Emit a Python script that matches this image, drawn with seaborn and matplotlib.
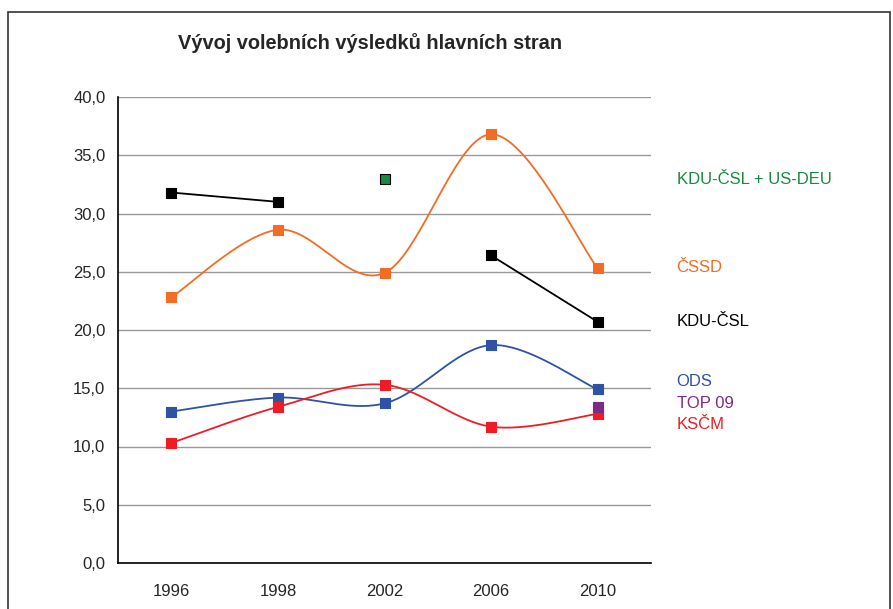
import numpy as np
import pandas as pd
import seaborn as sns
import matplotlib
matplotlib.use("Agg")
import matplotlib.pyplot as plt
from matplotlib.patches import Rectangle

# data
years = ["1996", "1998", "2002", "2006", "2010"]
cssd = [22.8, 28.6, 24.9, 36.8, 25.3]
ods = [13.0, 14.2, 13.7, 18.7, 14.9]
kscm = [10.3, 13.4, 15.3, 11.7, 12.8]
kdu = [31.8, 31.0, np.nan, 26.4, 20.7]
kdu_us = [np.nan, np.nan, 33.0, np.nan, np.nan]
top09 = [np.nan, np.nan, np.nan, np.nan, 13.4]

series = ["ČSSD", "ODS", "KSČM", "KDU-ČSL", "KDU-ČSL + US-DEU", "TOP 09"]
values = [cssd, ods, kscm, kdu, kdu_us, top09]
colors = ["#F26D23", "#2F52A4", "#EE1D25", "#000000", "#178A3F", "#7D2A85"]
edges = ["#F26D23", "#2F52A4", "#EE1D25", "#000000", "#000000", "#7D2A85"]

# label positions on the right (data y)
label_y = {"KDU-ČSL + US-DEU": 32.9, "ČSSD": 25.4, "KDU-ČSL": 20.7,
           "ODS": 15.6, "TOP 09": 13.7, "KSČM": 11.9}

df = pd.DataFrame({"year": years * len(series),
                   "strana": np.repeat(series, len(years)),
                   "hodnota": np.concatenate(values)})
df["pos"] = df.groupby("strana").cumcount()


def smooth(x, y, n=40):
    # Excel-like smoothed line (Catmull-Rom bezier)
    x = np.asarray(x, float)
    y = np.asarray(y, float)
    px, py = [], []
    for i in range(len(x) - 1):
        x0, y0 = (x[i - 1], y[i - 1]) if i > 0 else (x[i], y[i])
        x3, y3 = (x[i + 2], y[i + 2]) if i + 2 < len(x) else (x[i + 1], y[i + 1])
        x1, y1, x2, y2 = x[i], y[i], x[i + 1], y[i + 1]
        c1 = (x1 + (x2 - x0) / 6, y1 + (y2 - y0) / 6)
        c2 = (x2 - (x3 - x1) / 6, y2 - (y3 - y1) / 6)
        t = np.linspace(0, 1, n)
        bx = (1 - t) ** 3 * x1 + 3 * (1 - t) ** 2 * t * c1[0] + 3 * (1 - t) * t ** 2 * c2[0] + t ** 3 * x2
        by = (1 - t) ** 3 * y1 + 3 * (1 - t) ** 2 * t * c1[1] + 3 * (1 - t) * t ** 2 * c2[1] + t ** 3 * y2
        px.extend(bx)
        py.extend(by)
    return np.array(px), np.array(py)


sns.set_theme(style="white")
plt.rcParams["font.family"] = ["Liberation Sans", "DejaVu Sans"]

fig = plt.figure(figsize=(8.93, 6.09), dpi=100)
ax = fig.add_axes([118 / 893, 1 - 563 / 609, 533 / 893, 466 / 609])

for name, col in zip(series, colors):
    sub = df[df.strana == name]
    ok = sub.hodnota.notna().values
    # split into continuous runs
    runs, cur = [], []
    for p, v, k in zip(sub.pos, sub.hodnota, ok):
        if k:
            cur.append((p, v))
        elif cur:
            runs.append(cur)
            cur = []
    if cur:
        runs.append(cur)
    for r in runs:
        if len(r) < 2:
            continue
        xs, ys = zip(*r)
        sx, sy = smooth(xs, ys)
        ax.plot(sx, sy, color=col, lw=1.3, zorder=3)

for name, col, ec in zip(series, colors, edges):
    sub = df[(df.strana == name) & df.hodnota.notna()]
    sns.scatterplot(data=sub, x="pos", y="hodnota", marker="s", s=55,
                    color=col, edgecolor=ec, linewidth=0.8, ax=ax, zorder=4, legend=False)

for name, col in zip(series, colors):
    ax.text(4.74, label_y[name], name, color=col, fontsize=12, va="center",
            ha="left", clip_on=False)

ax.set_xlim(-0.5, 4.5)
ax.set_ylim(0, 40)
ax.set_yticks(np.arange(0, 41, 5))
ax.set_yticklabels([f"{v:.1f}".replace(".", ",") for v in np.arange(0, 41, 5)])
ax.set_xticks(range(len(years)))
ax.set_xticklabels(years)
ax.set_xticks(np.arange(-0.5, 4.6, 1), minor=True)
ax.tick_params(axis="x", which="major", length=0, pad=15, labelsize=12)
ax.tick_params(axis="x", which="minor", length=5, width=0.8, color="#888888", direction="out")
ax.tick_params(axis="y", length=5, width=0.8, color="#888888", direction="out", pad=4, labelsize=12)
ax.grid(axis="y", color="#999999", lw=1)
ax.set_axisbelow(True)
ax.set_xlabel("")
ax.set_ylabel("")
for s in ["top", "right"]:
    ax.spines[s].set_visible(False)
for s in ["left", "bottom"]:
    ax.spines[s].set_color("black")
    ax.spines[s].set_linewidth(1.2)

fig.text(370 / 893, 1 - 43 / 609, "Vývoj volebních výsledků hlavních stran",
         ha="center", va="center", fontsize=14.4, fontweight="bold")

fig.patches.append(Rectangle((8 / 893, -0.05), 882 / 893, 1.05 - 12 / 609,
                             transform=fig.transFigure, fill=False,
                             edgecolor="#333333", lw=1.2))

fig.savefig("out.png", dpi=100)
plt.close()
